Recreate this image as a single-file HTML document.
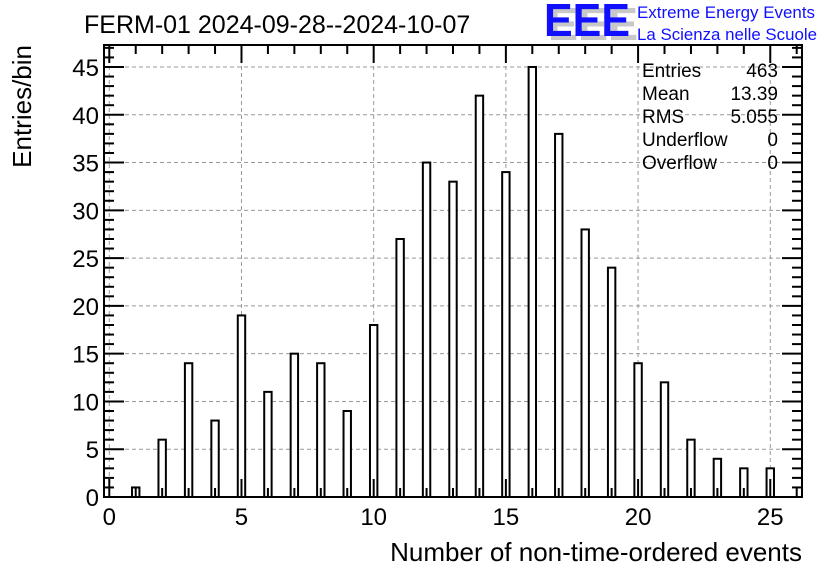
<!DOCTYPE html>
<html><head><meta charset="utf-8"><style>
body{margin:0;background:#fff;}
svg{display:block;font-family:"Liberation Sans",sans-serif;}
</style></head><body>
<svg id="chart" width="836" height="572">
<text x="84" y="33" font-size="25" fill="#000">FERM-01 2024-09-28--2024-10-07</text>
<g>
<text x="548" y="40" font-size="46" font-weight="bold" fill="#c8c8c8" textLength="90" lengthAdjust="spacingAndGlyphs">EEE</text>
<text x="544" y="36" font-size="46" font-weight="bold" fill="#1010ff" textLength="86" lengthAdjust="spacingAndGlyphs">EEE</text>
<text x="637" y="18" font-size="17" fill="#1010ff" textLength="178" lengthAdjust="spacingAndGlyphs">Extreme Energy Events</text>
<text x="637" y="40" font-size="17" fill="#1010ff" textLength="180" lengthAdjust="spacingAndGlyphs">La Scienza nelle Scuole</text>
</g>
<g id="grid"></g>
<g id="bars"></g>
<g id="axes"></g>
<g font-size="19" fill="#000">
<text x="642" y="77">Entries</text><text x="778" y="77" text-anchor="end">463</text>
<text x="642" y="100">Mean</text><text x="778" y="100" text-anchor="end">13.39</text>
<text x="642" y="123">RMS</text><text x="778" y="123" text-anchor="end">5.055</text>
<text x="642" y="146">Underflow</text><text x="778" y="146" text-anchor="end">0</text>
<text x="642" y="169">Overflow</text><text x="778" y="169" text-anchor="end">0</text>
</g>
<text x="802" y="561" font-size="26" text-anchor="end">Number of non-time-ordered events</text>
<text transform="translate(31,45) rotate(-90)" font-size="26" text-anchor="end">Entries/bin</text>
</svg>
<script>
const categories=[0,1,2,3,4,5,6,7,8,9,10,11,12,13,14,15,16,17,18,19,20,21,22,23,24,25];
const counts=[0,1,6,14,8,19,11,15,14,9,18,27,35,33,42,34,45,38,28,24,14,12,6,4,3,3];
const xTicks=[0,5,10,15,20,25];
const yTicks=[0,5,10,15,20,25,30,35,40,45];
const L=104,R=802,T=45,B=497;
const x0=-0.2,x1=26.2,y0=0,y1=47.3;
const sx=v=>L+(v-x0)/(x1-x0)*(R-L);
const sy=v=>B-(v-y0)/(y1-y0)*(B-T);
const NS="http://www.w3.org/2000/svg";
function mk(p,tag,a){const e=document.createElementNS(NS,tag);for(const k in a)e.setAttribute(k,a[k]);p.appendChild(e);return e;}
const grid=document.getElementById('grid'),bars=document.getElementById('bars'),axes=document.getElementById('axes');
xTicks.forEach(t=>{const l=mk(grid,'line',{x1:sx(t),x2:sx(t),y1:T,y2:B,stroke:'#999','stroke-dasharray':'4,3'});

});
yTicks.forEach(t=>{const l=mk(grid,'line',{x1:L,x2:R,y1:sy(t),y2:sy(t),stroke:'#999','stroke-dasharray':'4,3'});

});
categories.forEach((c,i)=>{if(counts[i]<=0)return;const a=sx(c-0.14),b=sx(c+0.14);
const r=mk(bars,'rect',{x:a,y:sy(counts[i]),width:b-a,height:B-sy(counts[i]),fill:'#fff',stroke:'#000','stroke-width':2});

});
const fr=mk(axes,'rect',{x:L,y:T,width:R-L,height:B-T,fill:'none',stroke:'#000','stroke-width':2});


for(let v=0;v<=26;v++){const X=sx(v),len=v%5==0?18:9;
mk(axes,'line',{x1:X,x2:X,y1:B,y2:B-len,stroke:'#000','stroke-width':2});
mk(axes,'line',{x1:X,x2:X,y1:T,y2:T+len,stroke:'#000','stroke-width':2});}
for(let v=0;v<=47;v++){const Y=sy(v),len=v%5==0?20:10;
mk(axes,'line',{x1:L,x2:L+len,y1:Y,y2:Y,stroke:'#000','stroke-width':2});
mk(axes,'line',{x1:R,x2:R-len,y1:Y,y2:Y,stroke:'#000','stroke-width':2});}
xTicks.forEach(t=>{const e=mk(axes,'text',{x:sx(t),y:525,'font-size':24,'text-anchor':'middle'});e.textContent=t;

});
yTicks.forEach(t=>{const e=mk(axes,'text',{x:99,y:sy(t)+9,'font-size':24,'text-anchor':'end'});e.textContent=t;

});
</script>
</body></html>
